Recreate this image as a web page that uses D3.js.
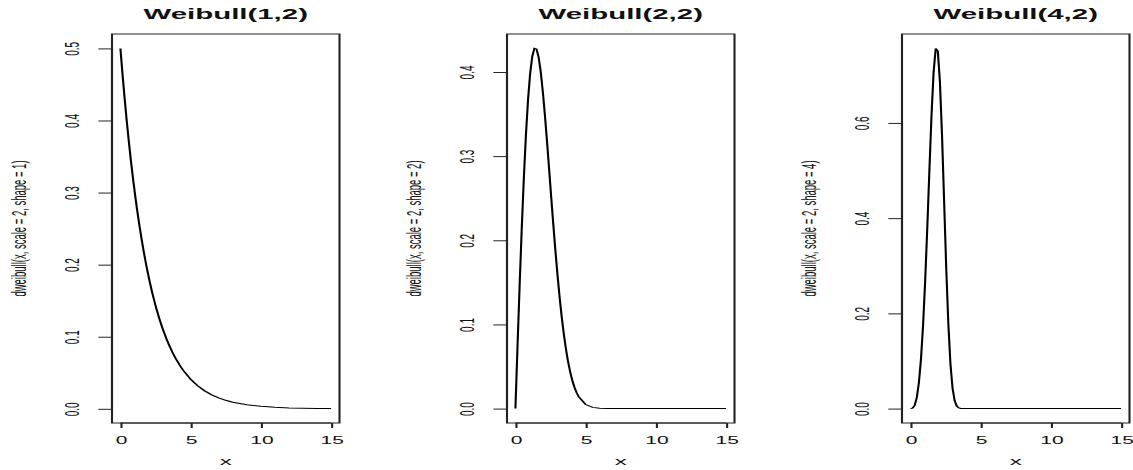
<!DOCTYPE html>
<html>
<head>
<meta charset="utf-8">
<script src="https://cdn.jsdelivr.net/npm/d3@7"></script>
<style>
  body { margin: 0; background: #fff; }
  text { font-family: "Liberation Sans", Arial, sans-serif; fill: #111; }
</style>
</head>
<body>
<svg id="chart" width="1133" height="470"></svg>
<script>
// x positions the densities were read at (same grid for all three panels)
var xs = [0, 0.15, 0.3, 0.45, 0.6, 0.75, 0.9, 1.05, 1.2, 1.35, 1.5, 1.65, 1.8, 1.95, 2.1,
    2.25, 2.4, 2.55, 2.7, 2.85, 3, 3.15, 3.3, 3.45, 3.6, 3.75, 3.9, 4.05, 4.2, 4.35, 4.5,
    5, 5.5, 6, 6.5, 7, 7.5, 8, 9, 10, 11, 12, 13, 14, 15];

// Weibull(1,2)
var dens1 = [0.5, 0.4639, 0.4304, 0.3993, 0.3704, 0.3436, 0.3188, 0.2958, 0.2744, 0.2546,
    0.2362, 0.2191, 0.2033, 0.1886, 0.1750, 0.1623, 0.1506, 0.1397, 0.1296, 0.1203, 0.1116,
    0.1035, 0.0960, 0.0891, 0.0827, 0.0767, 0.0711, 0.0660, 0.0612, 0.0568, 0.0527,
    0.0410, 0.0320, 0.0249, 0.0194, 0.0151, 0.0118, 0.0092, 0.0056, 0.0034, 0.0020,
    0.0012, 0.0008, 0.0005, 0.0003];

// Weibull(2,2)
var dens2 = [0, 0.0746, 0.1467, 0.2139, 0.2742, 0.3258, 0.3675, 0.3985, 0.4186, 0.4280,
    0.4273, 0.4177, 0.4004, 0.3768, 0.3486, 0.3173, 0.2843, 0.2509, 0.2182, 0.1870, 0.1581,
    0.1318, 0.1084, 0.0880, 0.0705, 0.0557, 0.0435, 0.0335, 0.0255, 0.0192, 0.0142,
    0.0048, 0.0014, 0.0004, 0.0001, 0, 0, 0, 0, 0, 0, 0, 0, 0, 0];

// Weibull(4,2)
var dens3 = [0, 0.0008, 0.0067, 0.0227, 0.0536, 0.1034, 0.1749, 0.2682, 0.3795, 0.4998,
    0.6149, 0.7067, 0.7565, 0.7509, 0.6866, 0.5739, 0.4345, 0.2950, 0.1776, 0.0937, 0.0427,
    0.0166, 0.0054, 0.0015, 0.0003, 0.0001, 0, 0, 0, 0, 0,
    0, 0, 0, 0, 0, 0, 0, 0, 0, 0, 0, 0, 0, 0];

var titles = ["Weibull(1,2)", "Weibull(2,2)", "Weibull(4,2)"];
var yLabels = ["dweibull(x, scale = 2, shape = 1)",
    "dweibull(x, scale = 2, shape = 2)",
    "dweibull(x, scale = 2, shape = 4)"];
var xTicks = [0, 5, 10, 15];
var yTicks1 = [0, 0.1, 0.2, 0.3, 0.4, 0.5];
var yTicks2 = [0, 0.1, 0.2, 0.3, 0.4];
var yTicks3 = [0, 0.2, 0.4, 0.6];

// the whole picture is stretched sideways, so draw in narrow units and scale x
var sx = 2.1;
var boxLefts = [112, 507, 902];   // final pixels
var boxW = 227.5, boxTop = 34, boxBottom = 423;

var svg = d3.select("#chart");
var root = svg.append("g").attr("transform", `scale(${sx},1)`);

// R style range: data extent padded by 4% on each side
function padded(ext) {
    var p = (ext[1] - ext[0]) * 0.04;
    return [ext[0] - p, ext[1] + p];
}

var panels = [
    { dens: dens1, yTicks: yTicks1 },
    { dens: dens2, yTicks: yTicks2 },
    { dens: dens3, yTicks: yTicks3 }
];

panels.forEach((p, i) => {
    var left = boxLefts[i] / sx;
    var right = (boxLefts[i] + boxW) / sx;

    var x = d3.scaleLinear().domain(padded(d3.extent(xs))).range([left, right]);
    var y = d3.scaleLinear().domain(padded(d3.extent(p.dens))).range([boxBottom, boxTop]);

    var g = root.append("g");

    // curve
    var line = d3.line()
        .x((d, j) => x(xs[j]))
        .y(d => y(d));
    g.append("path")
        .datum(p.dens)
        .attr("d", line)
        .attr("fill", "none")
        .attr("stroke", "#000")
        .attr("stroke-width", 1);

    // box
    g.append("rect")
        .attr("x", left)
        .attr("y", boxTop)
        .attr("width", right - left)
        .attr("height", boxBottom - boxTop)
        .attr("fill", "none")
        .attr("stroke", "#222")
        .attr("stroke-width", 1);

    // y axis
    var yAxis = g.append("g")
        .attr("transform", `translate(${left},0)`)
        .call(d3.axisLeft(y).tickValues(p.yTicks).tickSize(6.5).tickFormat(d3.format(".1f")));
    yAxis.select(".domain").remove();
    yAxis.append("line")
        .attr("y1", y(p.yTicks[0]))
        .attr("y2", y(p.yTicks[p.yTicks.length - 1]))
        .attr("stroke", "#222");
    yAxis.selectAll(".tick line").attr("stroke", "#222");
    yAxis.selectAll(".tick text")
        .attr("x", null)
        .attr("dy", "0.35em")
        .attr("text-anchor", "middle")
        .attr("transform", "translate(-19,0) rotate(-90)")
        .attr("font-size", 10)
        .attr("font-family", null)
        .attr("fill", null);

    // x axis
    var xAxis = g.append("g")
        .attr("transform", `translate(0,${boxBottom})`)
        .call(d3.axisBottom(x).tickValues(xTicks).tickSize(5));
    xAxis.select(".domain").remove();
    xAxis.append("line")
        .attr("x1", x(xTicks[0]))
        .attr("x2", x(xTicks[xTicks.length - 1]))
        .attr("stroke", "#222");
    xAxis.selectAll(".tick line").attr("stroke", "#222");
    xAxis.selectAll(".tick text")
        .attr("y", 21)
        .attr("dy", null)
        .attr("font-size", 10)
        .attr("font-family", null)
        .attr("fill", null);

    // titles and axis labels
    g.append("text")
        .attr("x", (left + right) / 2)
        .attr("y", 19.5)
        .attr("text-anchor", "middle")
        .attr("font-weight", "bold")
        .attr("font-size", 14)
        .text(titles[i]);

    g.append("text")
        .attr("x", (left + right) / 2)
        .attr("y", 465.5)
        .attr("text-anchor", "middle")
        .attr("font-size", 11.5)
        .text("x");

    g.append("text")
        .attr("transform", `translate(${left - 44.5},${(boxTop + boxBottom) / 2}) rotate(-90)`)
        .attr("dy", "0.35em")
        .attr("text-anchor", "middle")
        .attr("font-size", 9.5)
        .text(yLabels[i]);
});
</script>
</body>
</html>
